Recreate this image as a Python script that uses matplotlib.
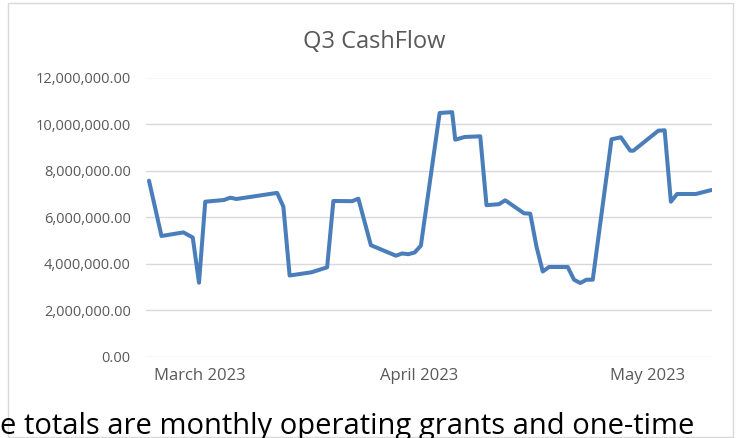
import matplotlib
matplotlib.use("Agg")
import matplotlib.pyplot as plt
from matplotlib.ticker import FuncFormatter, FixedLocator
from matplotlib.patches import Rectangle

# ---- data ----
day = [0, 2, 5.5, 7, 8, 9, 12, 13, 14, 20.5, 21.5, 22.5, 26, 28.5, 29.5,
       32.5, 33.5, 35.5, 39.5, 40.5, 41.5, 42.5, 43.5, 46.5, 48.5, 49, 50.5,
       53, 54, 56, 57, 60, 61, 62, 63, 64, 67, 68, 69, 70, 71, 74, 75.5, 77,
       77.5, 81.5, 82.5, 83.5, 84.5, 87.5, 90]
cashflow = [7570000, 5195000, 5350000, 5130000, 3190000, 6668000, 6741000,
            6840000, 6784000, 7046000, 6453000, 3499000, 3637000, 3851000,
            6698000, 6690000, 6797000, 4800000, 4350000, 4444000, 4414000,
            4487000, 4779000, 10477000, 10511000, 9330000, 9446000, 9476000,
            6518000, 6561000, 6728000, 6170000, 6153000, 4736000, 3671000,
            3864000, 3864000, 3319000, 3177000, 3319000, 3319000, 9347000,
            9433000, 8858000, 8858000, 9717000, 9734000, 6668000, 6999000,
            6999000, 7170000]
month_pos = [8.16, 43.2, 79.7]
month_labels = ["March 2023", "April 2023", "May 2023"]
y_ticks = [0, 2000000, 4000000, 6000000, 8000000, 10000000, 12000000]
title = "Q3 CashFlow"
caption = "e totals are monthly operating grants and one-time"

W, H = 738, 438
fig = plt.figure(figsize=(W / 100, H / 100), dpi=100)
fig.patch.set_facecolor("white")

# chart border
fig.add_artist(Rectangle((8 / W, 1 - 437 / H), (733 - 8) / W, (437 - 3) / H,
                         transform=fig.transFigure, fill=False,
                         edgecolor="#d9d9d9", linewidth=1.0))

ax = fig.add_axes([146 / W, 1 - 357 / H, (712 - 146) / W, (357 - 77.5) / H])
ax.plot(day, cashflow, color="#4a7ebb", linewidth=2.9,
        solid_joinstyle="round", solid_capstyle="round", zorder=3)

ax.set_ylim(0, 12000000)
ax.set_xlim(-0.48, 90.08)
ax.yaxis.set_major_locator(FixedLocator(y_ticks))
ax.yaxis.set_major_formatter(FuncFormatter(lambda v, p: f"{v:,.2f}"))
ax.set_xticks(month_pos)
ax.set_xticklabels(month_labels)

font = "Open Sans"
for lab in ax.get_yticklabels():
    lab.set_fontfamily(font)
    lab.set_fontsize(10.5)
    lab.set_color("#595959")
for lab in ax.get_xticklabels():
    lab.set_fontfamily(font)
    lab.set_fontsize(12)
    lab.set_color("#595959")

ax.tick_params(axis="both", length=0)
ax.tick_params(axis="y", pad=11)
ax.tick_params(axis="x", pad=8)
ax.grid(axis="y", color="#d9d9d9", linewidth=1.0)
ax.set_axisbelow(True)
for s in ax.spines.values():
    s.set_visible(False)

fig.text(374 / W, 1 - 42 / H, title, ha="center", va="center",
         fontsize=17, color="#595959", fontfamily=font)
fig.text(0, 1 - 434 / H, caption, ha="left", va="baseline",
         fontsize=21, color="#000000", fontfamily=font)

fig.savefig("out.png", dpi=100, facecolor="white")
